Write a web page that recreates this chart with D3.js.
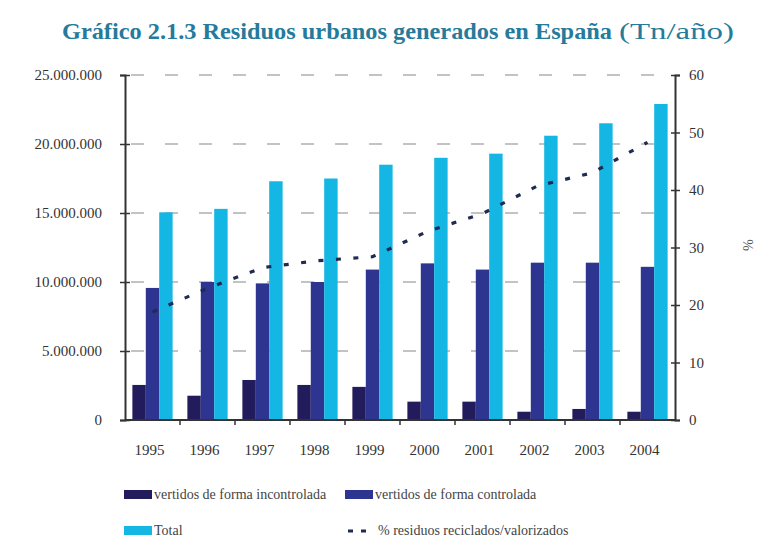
<!DOCTYPE html>
<html><head><meta charset="utf-8">
<script src="https://cdn.jsdelivr.net/npm/d3@7"></script>
<style>body{margin:0;background:#fff}svg{display:block}
svg text{font-family:'Liberation Serif','Times New Roman',serif}</style>
</head><body>
<svg id="c" width="757" height="544"></svg>
<script>
const years = ["1995","1996","1997","1998","1999","2000","2001","2002","2003","2004"];
const incontrolada = [2540000,1760000,2900000,2540000,2400000,1330000,1330000,600000,800000,600000];
const controlada = [9570000,10000000,9900000,10000000,10900000,11350000,10900000,11400000,11400000,11100000];
const total = [15050000,15300000,17300000,17500000,18500000,19000000,19300000,20600000,21500000,22900000];
const reciclados = [18.8,22.9,26.5,27.7,28.4,32.8,35.9,40.7,43.0,48.3];
const leftTicks = [0,5000000,10000000,15000000,20000000,25000000];
const rightTicks = [0,10,20,30,40,50,60];
const seriesNames = ["vertidos de forma incontrolada","vertidos de forma controlada","Total"];
const colors = ["#231c5c","#2d3591","#14b6e4"];
const lineColor = "#1f2b52";

const svg = d3.select("#c");
const L = 125, R = 675, T = 75, B = 420;
const x = d3.scaleBand().domain(years).range([L, R]);
const inner = d3.scaleBand().domain([0,1,2]).range([0, x.bandwidth()]).paddingOuter(0.55);
const y = d3.scaleLinear().domain([0, 25000000]).range([B, T]);
const y2 = d3.scaleLinear().domain([0, 60]).range([B, T]);
const fmt = v => d3.format(",")(v).replace(/,/g, ".");

// title
svg.append("text").attr("x", 62).attr("y", 39)
  .attr("font-size", 23.5).attr("font-weight", "bold").attr("fill", "#267a9b")
  .attr("textLength", 550).attr("lengthAdjust", "spacingAndGlyphs")
  .text("Gráfico 2.1.3  Residuos urbanos generados en España");
svg.append("text").attr("x", 619).attr("y", 39)
  .attr("font-size", 23.5).attr("fill", "#267a9b")
  .attr("textLength", 115).attr("lengthAdjust", "spacingAndGlyphs")
  .text("(Tn/año)");

// gridlines
svg.append("g").selectAll("line").data(leftTicks.filter(d => d > 0)).join("line")
  .attr("x1", L + 6).attr("x2", R).attr("y1", d => y(d)).attr("y2", d => y(d))
  .attr("stroke", "#b0b0b0").attr("stroke-width", 1.5).attr("stroke-dasharray", "13,21");

// bars
const data = years.map((yr, i) => ({yr, vals: [incontrolada[i], controlada[i], total[i]]}));
const g = svg.append("g").selectAll("g").data(data).join("g")
  .attr("transform", d => `translate(${x(d.yr)},0)`);
g.selectAll("rect").data(d => d.vals.map((v, k) => ({v, k}))).join("rect")
  .attr("x", d => inner(d.k)).attr("width", inner.bandwidth())
  .attr("y", d => y(d.v)).attr("height", d => B - y(d.v))
  .attr("fill", d => colors[d.k]);

// line
const line = d3.line().x((d, i) => x(years[i]) + x.bandwidth() / 2).y(d => y2(d));
svg.append("path").datum(reciclados).attr("d", line).attr("fill", "none")
  .attr("stroke", lineColor).attr("stroke-width", 3.2).attr("stroke-dasharray", "5,12.5");

// axes
const leftAxis = d3.axisLeft(y).tickValues(leftTicks).tickFormat(fmt).tickSize(5).tickPadding(18);
const la = svg.append("g").attr("transform", `translate(${L},0)`).call(leftAxis);
const rightAxis = d3.axisRight(y2).tickValues(rightTicks).tickSize(5).tickPadding(9);
const ra = svg.append("g").attr("transform", `translate(${R},0)`).call(rightAxis);
const bottomAxis = d3.axisBottom(x).tickSize(0).tickPadding(24);
const ba = svg.append("g").attr("transform", `translate(-3,${B})`).call(bottomAxis);
[la, ra, ba].forEach(a => {
  a.attr("font-family", null);
  a.select(".domain").attr("stroke", "#333").attr("stroke-width", 2);
  a.selectAll("text").attr("font-size", 15).attr("fill", "#333");
  a.selectAll(".tick line").attr("stroke", "#333").attr("stroke-width", 1.5);
});
la.selectAll(".tick line").attr("x2", -5).attr("x1", 5);
ra.selectAll(".tick line").attr("x1", -4).attr("x2", 5);
ba.select(".domain").attr("d", `M${L + 3},0H${R + 3}`);
// category boundary ticks on bottom axis
svg.append("g").selectAll("line").data(years.slice(1)).join("line")
  .attr("x1", d => x(d)).attr("x2", d => x(d)).attr("y1", B).attr("y2", B + 5)
  .attr("stroke", "#333").attr("stroke-width", 1.5);

// right axis title
svg.append("text").attr("transform", "translate(743,245) rotate(90)")
  .attr("text-anchor", "middle").attr("font-size", 14).attr("fill", "#555").text("%");

// legend
const lg = svg.append("g").attr("font-size", 14).attr("fill", "#444");
const legendItems = [
  {name: seriesNames[0], type: "rect", color: colors[0], x: 124, y: 495},
  {name: seriesNames[1], type: "rect", color: colors[1], x: 345, y: 495},
  {name: seriesNames[2], type: "rect", color: colors[2], x: 124, y: 531},
  {name: "% residuos reciclados/valorizados", type: "line", color: lineColor, x: 345, y: 531}
];
legendItems.forEach(it => {
  if (it.type === "rect") {
    lg.append("rect").attr("x", it.x).attr("y", it.y - 5).attr("width", 28).attr("height", 9).attr("fill", it.color);
    lg.append("text").attr("x", it.x + 30).attr("y", it.y + 4).text(it.name);
  } else {
    lg.append("line").attr("x1", it.x + 3).attr("x2", it.x + 26).attr("y1", it.y).attr("y2", it.y)
      .attr("stroke", it.color).attr("stroke-width", 3.2).attr("stroke-dasharray", "5,8");
    lg.append("text").attr("x", it.x + 33).attr("y", it.y + 4).text(it.name);
  }
});
</script>
</body></html>
